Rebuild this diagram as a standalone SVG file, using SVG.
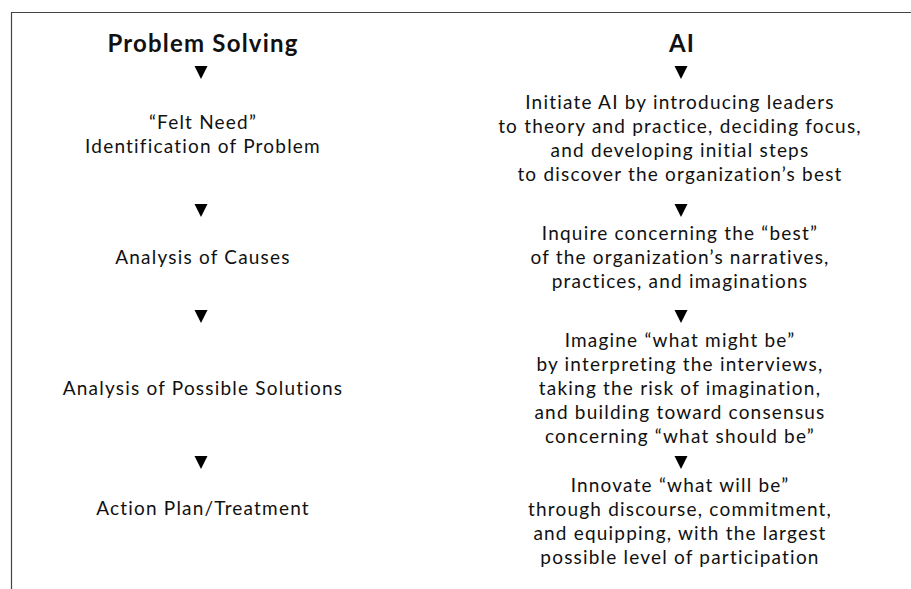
<svg xmlns="http://www.w3.org/2000/svg" xmlns:xlink="http://www.w3.org/1999/xlink" width="911" height="589" viewBox="0 0 911 589">
<style>
text{font-family:"Lato","Open Sans","Liberation Sans",sans-serif;fill:#111;text-anchor:middle;letter-spacing:1.2px}
.h{font-size:24px;font-weight:bold}
.t{font-size:19px}
.frame{fill:none;stroke:#444;stroke-width:1.2}
</style>
<defs>
<path id="tri" d="M-6.5,0 L6.5,0 L0,13 Z" fill="#000"/>
</defs>
<rect width="911" height="589" fill="#fff"/>
<path class="frame" d="M11.5,589 V12.5 H911"/>
<g id="head-ps"><text class="h" x="203" y="52">Problem Solving</text></g>
<g id="head-ai"><text class="h" x="682" y="52">AI</text></g>
<g id="ps1"><text class="t" x="203" y="129">“Felt Need”</text><text class="t" x="203" y="153">Identification of Problem</text></g>
<g id="ps2"><text class="t" x="203" y="264">Analysis of Causes</text></g>
<g id="ps3"><text class="t" x="203" y="395">Analysis of Possible Solutions</text></g>
<g id="ps4"><text class="t" x="203" y="515">Action Plan/Treatment</text></g>
<g id="ai1"><text class="t" x="680" y="109">Initiate AI by introducing leaders</text><text class="t" x="680" y="133">to theory and practice, deciding focus,</text><text class="t" x="680" y="157">and developing initial steps</text><text class="t" x="680" y="181">to discover the organization’s best</text></g>
<g id="ai2"><text class="t" x="680" y="240">Inquire concerning the “best”</text><text class="t" x="680" y="264">of the organization’s narratives,</text><text class="t" x="680" y="288">practices, and imaginations</text></g>
<g id="ai3"><text class="t" x="680" y="347">Imagine “what might be”</text><text class="t" x="680" y="371">by interpreting the interviews,</text><text class="t" x="680" y="395">taking the risk of imagination,</text><text class="t" x="680" y="419">and building toward consensus</text><text class="t" x="680" y="443">concerning “what should be”</text></g>
<g id="ai4"><text class="t" x="680" y="492">Innovate “what will be”</text><text class="t" x="680" y="516">through discourse, commitment,</text><text class="t" x="680" y="540">and equipping, with the largest</text><text class="t" x="680" y="564">possible level of participation</text></g>
<g id="connectors">
<use xlink:href="#tri" x="201" y="66"/>
<use xlink:href="#tri" x="201" y="204"/>
<use xlink:href="#tri" x="201" y="310"/>
<use xlink:href="#tri" x="201" y="456"/>
<use xlink:href="#tri" x="681" y="66"/>
<use xlink:href="#tri" x="681" y="204"/>
<use xlink:href="#tri" x="681" y="310"/>
<use xlink:href="#tri" x="681" y="456"/>
</g>
</svg>
